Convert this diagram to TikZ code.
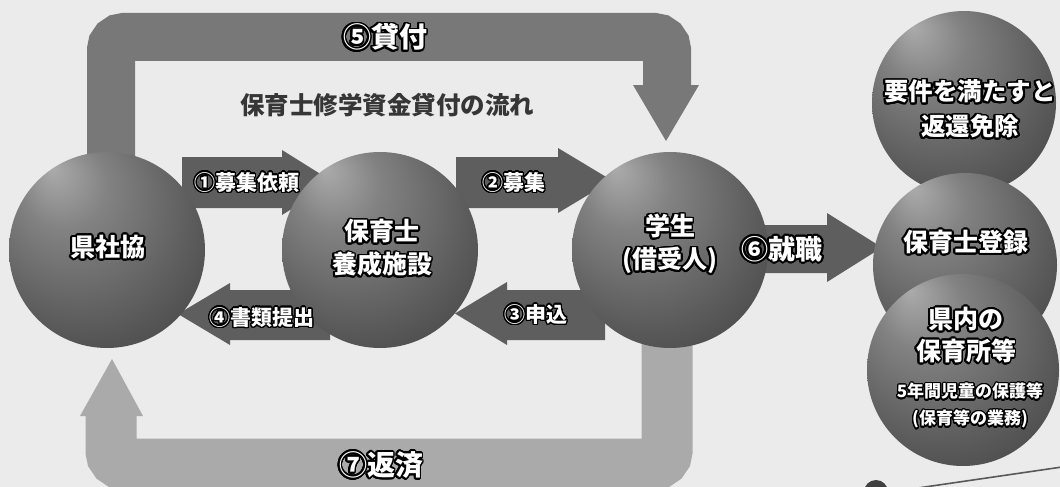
\documentclass[tikz,border=0pt]{standalone}
\usepackage{fontspec}
\setmainfont{Noto Sans CJK JP}
\usepackage[copies]{contour}
\contournumber{24}
\definecolor{bg}{HTML}{EBEBEB}
\definecolor{frameA}{HTML}{787878}
\definecolor{frameB}{HTML}{AAAAAA}
\definecolor{arr}{HTML}{5E5E5E}
\definecolor{titlec}{HTML}{363636}
\definecolor{sphA}{HTML}{ABABAB}
\definecolor{sphB}{HTML}{828282}
\definecolor{sphC}{HTML}{5C5C5C}
\definecolor{sphD}{HTML}{3C3C3C}
\definecolor{sphE}{HTML}{1E1E1E}
\pgfdeclareradialshading{sph}{\pgfqpoint{-14bp}{21bp}}{color(0bp)=(sphA); color(11bp)=(sphB); color(28bp)=(sphC); color(43bp)=(sphD); color(50bp)=(sphE)}
\newcommand{\olt}[2][1.8pt]{\contourlength{#1}\contour{black}{#2}}
\tikzset{
  ball/.style={circle, inner sep=0pt, shading=sph},
  lbl/.style={text=white, font=\bfseries\fontsize{25}{33}\selectfont, align=center, inner sep=0pt},
  small/.style={text=white, font=\bfseries\fontsize{17}{27}\selectfont, align=center, inner sep=0pt},
  arrlbl/.style={text=white, font=\bfseries\fontsize{21}{24}\selectfont, inner sep=0pt},
  bigl/.style={text=white, font=\bfseries\fontsize{28}{30}\selectfont, inner sep=0pt},
  blockarrow/.style={fill=arr},
}
\begin{document}
\begin{tikzpicture}[x=1pt,y=-1pt]
\useasboundingbox (0,0) rectangle (1060,487);
\fill[bg] (0,0) rectangle (1060,487);
% scan artefacts
\draw[line width=1.6pt, color=black!65] (918,488) -- (1062,467);
\fill[black!75] (876,492) circle (12pt);
% (5) loan frame
\draw[frameA, line width=48pt, rounded corners=13pt] (111,210) |- (667,37) -- (667,86);
\fill[frameA] (633,85) -- (699,85) -- (666,141) -- cycle;
% (7) repayment frame
\draw[frameB, line width=51pt, rounded corners=13pt] (667,300) |- (111,464) -- (111,416);
\fill[frameB] (80,416) -- (143,416) -- (112,359) -- cycle;
% block arrows
\fill[blockarrow] (182,157) -- (282,157) -- (282,150) -- (334,182.5) -- (282,215) -- (282,208) -- (182,208) -- cycle;
\fill[blockarrow] (456,157) -- (558,157) -- (558,148) -- (612,180.5) -- (558,213) -- (558,208) -- (456,208) -- cycle;
\fill[blockarrow] (605,290) -- (507,290) -- (507,282) -- (455,313.5) -- (507,345) -- (507,340) -- (605,340) -- cycle;
\fill[blockarrow] (330,290) -- (230,290) -- (230,283) -- (178,314) -- (230,345) -- (230,340) -- (330,340) -- cycle;
\fill[blockarrow] (745,225) -- (827,225) -- (827,213) -- (882,247.5) -- (827,282) -- (827,273) -- (745,273) -- cycle;
% spheres
\node[ball, minimum size=196pt] (ken) at (107,250) {};
\node[ball, minimum size=196pt] (yosei) at (380,250) {};
\node[ball, minimum size=196pt] (gakusei) at (670,250) {};
\node[ball, minimum size=184pt] (menjo) at (964,103) {};
\node[ball, minimum size=184pt] (toroku) at (965,265) {};
\node[ball, minimum size=192pt] (hoikusho) at (963,370) {};
% texts
\node[lbl] (tken) at (108,248) {\olt{県社協}};
\node[lbl] (tyosei) at (382,249) {\olt{保育士}\\\olt{養成施設}};
\node[lbl] (tgak) at (670,245) {\olt{学生}\\\olt{(借受人)}};
\node[lbl, font=\bfseries\fontsize{24.5}{35}\selectfont] (tmen) at (970,110) {\olt{要件を満たすと}\\\olt{返還免除}};
\node[lbl] (ttor) at (966,243) {\olt{保育士登録}};
\node[lbl, font=\bfseries\fontsize{25}{32}\selectfont] (thoi) at (966,336) {\olt{県内の}\\\olt{保育所等}};
\node[small] (thoi2) at (970,406.5) {\olt[1.3pt]{5年間児童の保護等}\\\olt[1.3pt]{(保育等の業務)}};
\node[arrlbl] (l1) at (247,183) {\olt[1.4pt]{①募集依頼}};
\node[arrlbl] (l2) at (514,183) {\olt[1.4pt]{②募集}};
\node[arrlbl] (l3) at (536,315) {\olt[1.4pt]{③申込}};
\node[arrlbl] (l4) at (262,318) {\olt[1.4pt]{④書類提出}};
\node[bigl, font=\bfseries\fontsize{27}{30}\selectfont] (l6) at (782,250) {\olt{⑥就職}};
\node[bigl] (l5) at (385,38) {\olt{⑤貸付}};
\node[bigl] (l7) at (381,466) {\olt{⑦返済}};
\node[font=\bfseries\fontsize{24.5}{28}\selectfont, text=titlec, inner sep=0pt] (title) at (387,105) {保育士修学資金貸付の流れ};
\end{tikzpicture}
\end{document}
